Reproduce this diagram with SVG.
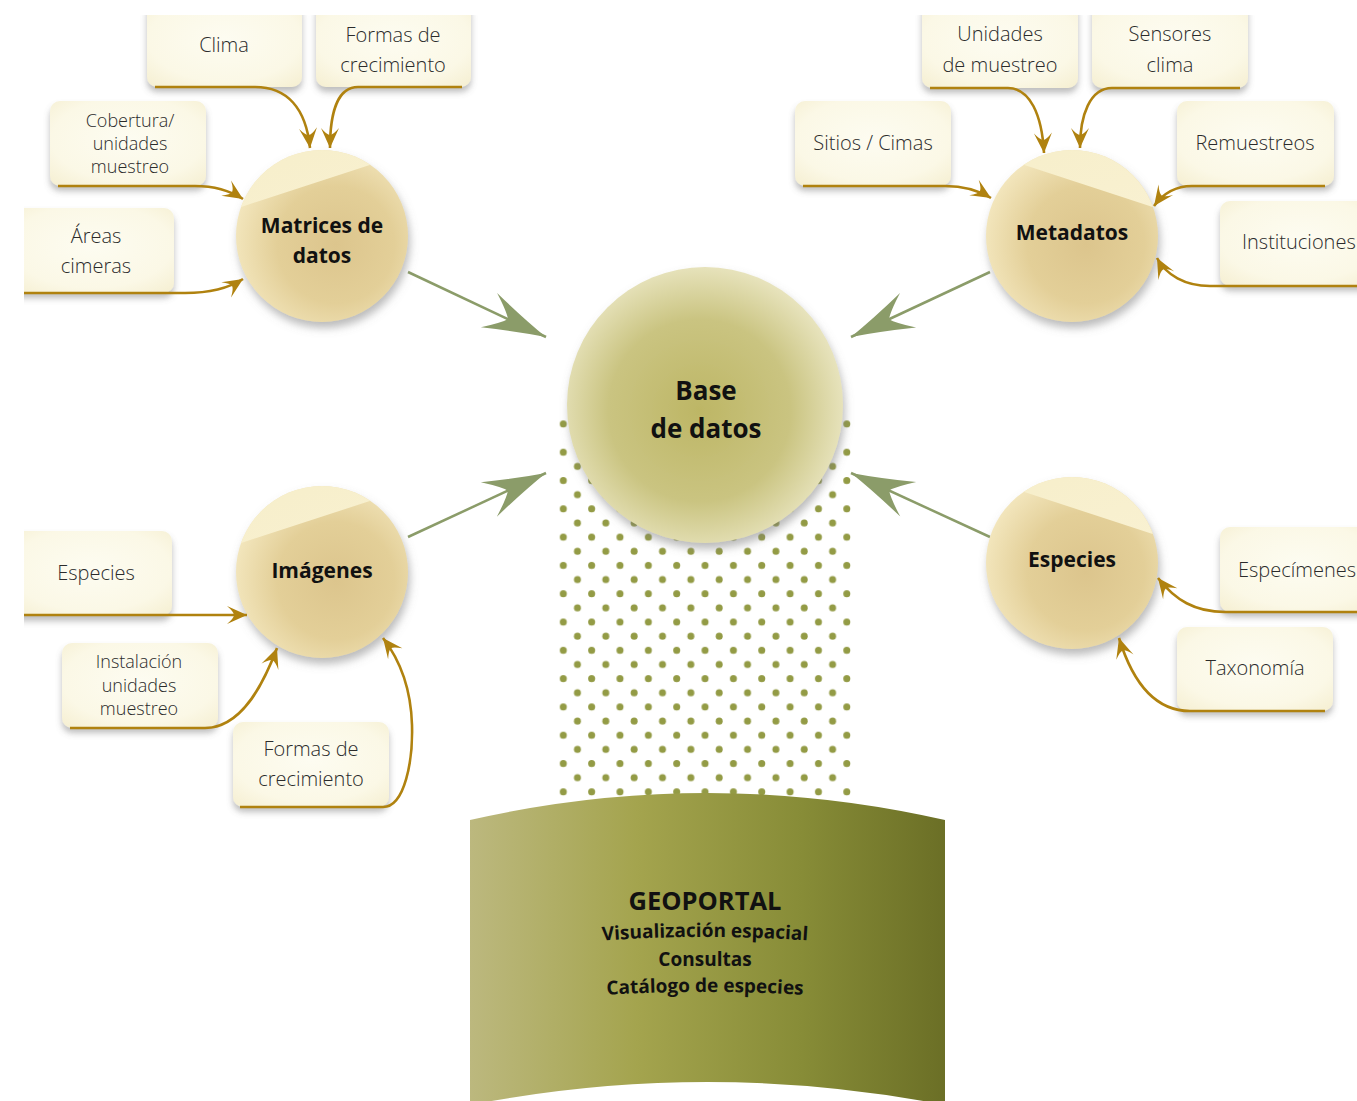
<svg xmlns="http://www.w3.org/2000/svg" width="1357" height="1101" viewBox="0 0 1357 1101">
<defs>
<style>
.box{fill:url(#boxG);filter:url(#boxSh)}
.lbl{font-family:"Open Sans","Liberation Sans",sans-serif;font-size:20px;font-weight:300;fill:#2b2b2b;text-anchor:middle}
.sm{font-size:18px}
.st{text-anchor:start}
.clbl{font-family:"Open Sans","Liberation Sans",sans-serif;font-size:21px;font-weight:700;fill:#111;text-anchor:middle}
.big{font-size:26px}
.gold{fill:none;stroke:#b0820f;stroke-width:2.6;marker-end:url(#ga)}
.green{fill:none;stroke:#8b9c69;stroke-width:2.5;marker-end:url(#gr)}
.geo{font-family:"Open Sans","Liberation Sans",sans-serif;font-weight:700;fill:#111;text-anchor:middle;font-size:19px}
.geoT{font-size:25.5px}
</style>
<clipPath id="view"><rect x="24" y="15" width="1333" height="1086"/></clipPath>
<clipPath id="cc"><circle cx="0" cy="0" r="86"/></clipPath>
<radialGradient id="boxG" cx="0.5" cy="0.45" r="0.7">
<stop offset="0" stop-color="#fdfcf1"/><stop offset="0.7" stop-color="#fbf8e6"/><stop offset="1" stop-color="#f6f0d4"/>
</radialGradient>
<radialGradient id="cirG" cx="0.58" cy="0.55" r="0.62">
<stop offset="0" stop-color="#dcc58d"/><stop offset="0.55" stop-color="#e3cf98"/><stop offset="1" stop-color="#f4e8c0"/>
</radialGradient>
<linearGradient id="capG" x1="0" y1="0" x2="1" y2="1">
<stop offset="0" stop-color="#f6eec9"/><stop offset="1" stop-color="#f9f1d2"/>
</linearGradient>
<radialGradient id="baseG" cx="0.48" cy="0.52" r="0.55">
<stop offset="0" stop-color="#bdb665"/><stop offset="0.6" stop-color="#cac481"/><stop offset="1" stop-color="#ebe7c4"/>
</radialGradient>
<linearGradient id="geoG" x1="0" y1="0" x2="1" y2="0">
<stop offset="0" stop-color="#bcb87e"/><stop offset="0.35" stop-color="#a4a44e"/><stop offset="0.7" stop-color="#878c37"/><stop offset="1" stop-color="#6b6f26"/>
</linearGradient>
<filter id="boxSh" x="-10%" y="-10%" width="120%" height="130%">
<feDropShadow dx="0" dy="5" stdDeviation="3" flood-color="#6e6e6e" flood-opacity="0.45"/>
</filter>
<filter id="cirSh" x="-20%" y="-20%" width="140%" height="145%">
<feDropShadow dx="2" dy="6" stdDeviation="4" flood-color="#777" flood-opacity="0.5"/>
</filter>
<pattern id="dots" patternUnits="userSpaceOnUse" x="559.7" y="420.4" width="28.35" height="28.3">
<circle cx="3.6" cy="3.6" r="3.5" fill="#939b45"/>
<circle cx="17.77" cy="17.75" r="3.5" fill="#939b45"/>
</pattern>
<marker id="ga" viewBox="-22 -12 24 24" refX="0" refY="0" markerWidth="24" markerHeight="24" markerUnits="userSpaceOnUse" orient="auto">
<path d="M0,0 L-20,-9 Q-13,-3 -13,0 Q-13,3 -20,9 Z" fill="#b0820f"/>
</marker>
<marker id="gr" viewBox="-66 -22 70 44" refX="0" refY="0" markerWidth="70" markerHeight="44" markerUnits="userSpaceOnUse" orient="auto">
<path d="M0,0 Q-28,-7 -63,-19 Q-46,-6 -42,0 Q-46,6 -63,19 Q-28,7 0,0 Z" fill="#8b9c69"/>
</marker>
<path id="arc1" d="M 560 944 Q 705 930 850 944"/>
<path id="arc2" d="M 560 998 Q 705 986 850 998"/>
</defs>
<rect width="1357" height="1101" fill="#fff"/>
<g clip-path="url(#view)">
<rect x="555" y="416" width="300" height="382" fill="url(#dots)"/>

<g id="geoportal">
<path d="M 470 820 Q 707 766 945 820 L 945 1105 Q 707 1059 470 1105 Z" fill="url(#geoG)"/>
<text class="geo geoT" x="705" y="910">GEOPORTAL</text>
<text class="geo"><textPath href="#arc1" startOffset="50%">Visualización espacial</textPath></text>
<text class="geo" x="705" y="966">Consultas</text>
<text class="geo"><textPath href="#arc2" startOffset="50%">Catálogo de especies</textPath></text>
</g>

<g id="connectors">
<path class="green" d="M 408 272 L 546 337"/>
<path class="green" d="M 408 537 L 546 473"/>
<path class="green" d="M 990 272 L 851 337"/>
<path class="green" d="M 990 537 L 851 473"/>
</g>

<g id="base">
<circle cx="705" cy="405" r="138" fill="url(#baseG)" filter="url(#cirSh)"/>
<text class="clbl big" x="706" y="400">Base</text>
<text class="clbl big" x="706" y="438">de datos</text>
</g>

<g id="matrices" transform="translate(322 236)">
<g filter="url(#cirSh)"><circle r="86" fill="url(#cirG)"/></g>
<polygon clip-path="url(#cc)" points="-100,-22.8 100,-88 100,-100 -100,-100" fill="url(#capG)"/>
<text class="clbl" x="0" y="-3">Matrices de</text>
<text class="clbl" x="0" y="27">datos</text>
</g>
<g id="metadatos" transform="translate(1072 236)">
<g filter="url(#cirSh)"><circle r="86" fill="url(#cirG)"/></g>
<polygon clip-path="url(#cc)" points="-100,-88 100,-22.8 100,-100 -100,-100" fill="url(#capG)"/>
<text class="clbl" x="0" y="4">Metadatos</text>
</g>
<g id="imagenes" transform="translate(322 572)">
<g filter="url(#cirSh)"><circle r="86" fill="url(#cirG)"/></g>
<polygon clip-path="url(#cc)" points="-100,-22.8 100,-88 100,-100 -100,-100" fill="url(#capG)"/>
<text class="clbl" x="0" y="6">Imágenes</text>
</g>
<g id="especies" transform="translate(1072 563)">
<g filter="url(#cirSh)"><circle r="86" fill="url(#cirG)"/></g>
<polygon clip-path="url(#cc)" points="-100,-88 100,-22.8 100,-100 -100,-100" fill="url(#capG)"/>
<text class="clbl" x="0" y="4">Especies</text>
</g>

<g id="n-clima"><rect class="box" x="147" y="0" width="155" height="87" rx="10"/><text class="lbl" x="224" y="52">Clima</text></g>
<g id="n-formas1"><rect class="box" x="316" y="0" width="155" height="87" rx="10"/><text class="lbl" x="393" y="42">Formas de</text><text class="lbl" x="393" y="72">crecimiento</text></g>
<g id="n-cobertura"><rect class="box" x="50" y="101" width="156" height="85" rx="10"/><text class="lbl sm" x="130" y="127">Cobertura/</text><text class="lbl sm" x="130" y="150">unidades</text><text class="lbl sm" x="130" y="173">muestreo</text></g>
<g id="n-areas"><rect class="box" x="10" y="208" width="164" height="85" rx="10"/><text class="lbl" x="96" y="243">Áreas</text><text class="lbl" x="96" y="273">cimeras</text></g>
<g id="n-unidades"><rect class="box" x="922" y="0" width="156" height="88" rx="10"/><text class="lbl" x="1000" y="41">Unidades</text><text class="lbl" x="1000" y="72">de muestreo</text></g>
<g id="n-sensores"><rect class="box" x="1092" y="0" width="156" height="88" rx="10"/><text class="lbl" x="1170" y="41">Sensores</text><text class="lbl" x="1170" y="72">clima</text></g>
<g id="n-sitios"><rect class="box" x="795" y="101" width="156" height="85" rx="10"/><text class="lbl" x="873" y="150">Sitios / Cimas</text></g>
<g id="n-remuestreos"><rect class="box" x="1177" y="101" width="157" height="85" rx="10"/><text class="lbl" x="1255" y="150">Remuestreos</text></g>
<g id="n-instituciones"><rect class="box" x="1220" y="201" width="160" height="85" rx="10"/><text class="lbl st" x="1242" y="249">Instituciones</text></g>
<g id="n-especies-img"><rect class="box" x="10" y="531" width="162" height="85" rx="10"/><text class="lbl" x="96" y="580">Especies</text></g>
<g id="n-instalacion"><rect class="box" x="62" y="643" width="156" height="85" rx="10"/><text class="lbl sm" x="139" y="668">Instalación</text><text class="lbl sm" x="139" y="692">unidades</text><text class="lbl sm" x="139" y="715">muestreo</text></g>
<g id="n-formas2"><rect class="box" x="233" y="722" width="156" height="85" rx="10"/><text class="lbl" x="311" y="756">Formas de</text><text class="lbl" x="311" y="786">crecimiento</text></g>
<g id="n-especimenes"><rect class="box" x="1220" y="527" width="160" height="85" rx="10"/><text class="lbl st" x="1238" y="577">Especímenes</text></g>
<g id="n-taxonomia"><rect class="box" x="1177" y="627" width="156" height="84" rx="10"/><text class="lbl" x="1255" y="675">Taxonomía</text></g>

<g id="gold-connectors">
<path class="gold" d="M 155 87 L 255 87 C 287 87 306 108 310 148"/>
<path class="gold" d="M 462 87 L 358 87 C 338 87 330 112 330 148"/>
<path class="gold" d="M 58 186 L 195 186 C 215 186 229 190 243 199"/>
<path class="gold" d="M 24 293 L 185 293 C 210 293 229 288 243 279"/>
<path class="gold" d="M 930 88 L 1008 88 C 1030 88 1042 115 1044 153"/>
<path class="gold" d="M 1240 88 L 1112 88 C 1090 88 1080 115 1080 148"/>
<path class="gold" d="M 803 186 L 945 186 C 965 186 978 190 991 198"/>
<path class="gold" d="M 1325 186 L 1192 186 C 1175 186 1162 195 1154 206"/>
<path class="gold" d="M 1357 286 L 1210 286 C 1185 286 1166 275 1157 258"/>
<path class="gold" d="M 24 615 L 247 615"/>
<path class="gold" d="M 70 728 L 205 728 C 240 728 262 688 277 648"/>
<path class="gold" d="M 240 807 L 383 807 C 405 807 413 760 412 725 C 411 690 400 660 383 638"/>
<path class="gold" d="M 1357 612 L 1225 612 C 1195 612 1175 600 1158 578"/>
<path class="gold" d="M 1325 711 L 1190 711 C 1160 711 1135 690 1119 638"/>
</g>
</g>
</svg>
